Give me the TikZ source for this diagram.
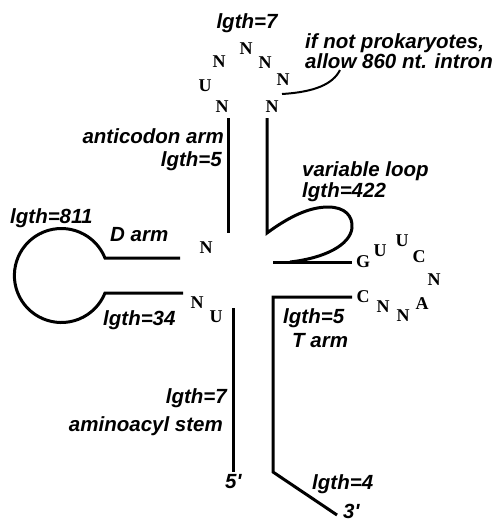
\documentclass[tikz,border=0pt]{standalone}
\usepackage{fontspec}
\newfontfamily\labfont{Liberation Sans}
\newfontfamily\ntfont{Liberation Serif}
\begin{document}
\begin{tikzpicture}[x=1pt,y=-1pt,
  lab/.style={font=\labfont\bfseries\itshape\fontsize{20.5}{20}\selectfont, inner sep=0pt},
  nt/.style={font=\ntfont\bfseries\fontsize{18}{18}\selectfont, inner sep=0pt},
  stem/.style={line width=3pt},
  thin/.style={line width=2pt}]
\useasboundingbox (0,0) rectangle (498,523);

% anticodon loop nucleotides
\node[nt] (ac1) at (222,107) {N};
\node[nt] (ac2) at (205,86) {U};
\node[nt] (ac3) at (219,62) {N};
\node[nt] (ac4) at (246,49) {N};
\node[nt] (ac5) at (265,63) {N};
\node[nt] (ac6) at (283,80) {N};
\node[nt] (ac7) at (272,107) {N};

% D arm / acceptor nucleotides
\node[nt] (d1) at (206,248) {N};
\node[nt] (d2) at (197,303) {N};
\node[nt] (d3) at (216,317) {U};

% T loop nucleotides
\node[nt] (t1) at (363,262) {G};
\node[nt] (t2) at (380,251) {U};
\node[nt] (t3) at (402,241) {U};
\node[nt] (t4) at (419,257) {C};
\node[nt] (t5) at (434,280) {N};
\node[nt] (t6) at (422,304) {A};
\node[nt] (t7) at (403,316) {N};
\node[nt] (t8) at (383,307) {N};
\node[nt] (t9) at (363,297) {C};

% labels
\node[lab] (l7) at (247,23) {lgth=7};
\node[lab, anchor=base west] (intr1) at (305,48) {if not prokaryotes,};
\node[lab, anchor=base west] (intr2) at (305,68) {allow 860 nt. intron};
\node[lab, anchor=base east] (acarm) at (224,143) {anticodon arm};
\node[lab, anchor=base east] (ac5l) at (222,166) {lgth=5};
\node[lab, anchor=base west] (vl) at (302,176) {variable loop};
\node[lab, anchor=base west] (vl2) at (302,197) {lgth=422};
\node[lab, anchor=base west] (l811) at (10,223) {lgth=811};
\node[lab, anchor=base west] (darm) at (110,241) {D arm};
\node[lab, anchor=base west] (l34) at (103,325) {lgth=34};
\node[lab, anchor=base west] (tl5) at (283,323) {lgth=5};
\node[lab, anchor=base west] (tarm) at (292,347) {T arm};
\node[lab, anchor=base east] (aa7) at (227,403) {lgth=7};
\node[lab, anchor=base east] (aas) at (223,431) {aminoacyl stem};
\node[lab, anchor=base west] (p5) at (225,488) {5'};
\node[lab, anchor=base west] (l4) at (312,489) {lgth=4};
\node[lab, anchor=base west] (p3) at (343,518) {3'};

% coordinates
\coordinate (acLt) at (228,118);
\coordinate (acLb) at (228,233);
\coordinate (acRt) at (267,118);
\coordinate (acRb) at (267,233);
\coordinate (vh1) at (273,262);
\coordinate (vh2) at (352,262);
\coordinate (du1) at (105,258);
\coordinate (du2) at (180,258);
\coordinate (dl2) at (183,293);
\coordinate (a5t) at (233,308);
\coordinate (a5b) at (233,472);
\coordinate (th1) at (352,297);
\coordinate (th2) at (273,297);
\coordinate (tv) at (273,472);
\coordinate (t3end) at (337,515);
\coordinate (ins) at (282,94);
\coordinate (ine) at (340,70);

% intron pointer
\draw[thin] (ins) .. controls (315,92) and (333,84) .. (ine);

% anticodon arm
\draw[stem] (acLt) -- (acLb);
\draw[stem] (acRt) -- (acRb)
  .. controls (290,216) and (310,207) .. (328,207)
  .. controls (345,207) and (353,216) .. (352,228)
  .. controls (350,245) and (325,258) .. (290,262);
\draw[stem] (vh1) -- (vh2);

% D arm
\draw[stem] (du2) -- (du1) arc[start angle=-21.86, end angle=-338.14, radius=47] -- (dl2);

% acceptor
\draw[stem] (a5t) -- (a5b);
\draw[stem] (th1) -- (th2) -- (tv) -- (t3end);
\end{tikzpicture}
\end{document}
